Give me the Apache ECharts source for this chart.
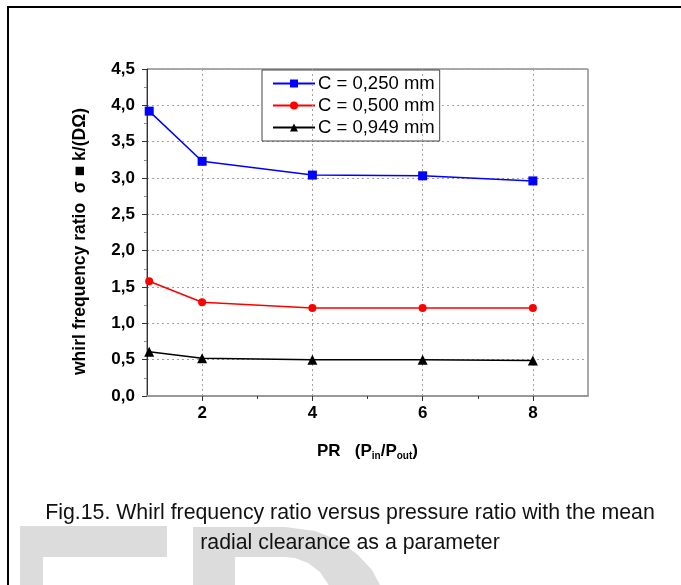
<!DOCTYPE html>
<html>
<head>
<meta charset="utf-8">
<script src="https://cdn.jsdelivr.net/npm/echarts@6/dist/echarts.min.js"></script>
<style>
  html, body { margin: 0; padding: 0; background: #fff; }
  #main { width: 681px; height: 585px; }
</style>
</head>
<body>
<div id="main"></div>
<script>
// pressure ratio values (x)
var prValues = [1.04, 2, 4, 6, 8];
var c250 = [3.92, 3.23, 3.04, 3.03, 2.96];
var c500 = [1.58, 1.29, 1.21, 1.21, 1.21];
var c949 = [0.61, 0.52, 0.50, 0.50, 0.49];
var seriesNames = ['C = 0,250 mm', 'C = 0,500 mm', 'C = 0,949 mm'];
var xMajor = [2, 4, 6, 8];
var xMinor = [3, 5, 7];

function pairs(ys) {
	var out = [];
	for (var i = 0; i < prValues.length; i++) {
		out.push([prValues[i], ys[i]]);
	}
	return out;
}

var font = 'Arial, "Liberation Sans", sans-serif';
var gridLine = { color: '#a0a0a0', type: [2, 3], width: 1 };

var chart = echarts.init(document.getElementById('main'));

var option = {
	animation: false,
	backgroundColor: '#fff',
	grid: {
		left: 147, top: 69, right: 93, bottom: 189,
		show: true,
		borderColor: '#555',
		borderWidth: 1
	},
	legend: {
		orient: 'vertical',
		left: 262,
		top: 70,
		padding: [4, 5, 4, 10],
		itemWidth: 42,
		itemHeight: 10,
		itemGap: 3,
		borderColor: '#444',
		borderWidth: 1,
		backgroundColor: '#fff',
		data: seriesNames,
		textStyle: { fontFamily: font, fontSize: 18.5, lineHeight: 19, color: '#000', padding: [0, 0, 0, -2] }
	},
	xAxis: [{
		type: 'value',
		min: 1,
		max: 9,
		interval: 1,
		name: 'PR   (P{sub|in}/P{sub|out})',
		nameLocation: 'middle',
		nameGap: 46,
		nameTextStyle: {
			fontFamily: font, fontSize: 17, fontWeight: 'bold', color: '#000',
			rich: {
				sub: { fontFamily: font, fontSize: 10, fontWeight: 'bold', verticalAlign: 'bottom', padding: [9, 0, 0, 0] }
			}
		},
		axisLine: { show: true, onZero: false, lineStyle: { color: '#999', width: 2 } },
		axisTick: { show: true, customValues: xMajor, length: 5, lineStyle: { color: '#333' } },
		axisLabel: {
			customValues: xMajor,
			fontFamily: font, fontSize: 17, fontWeight: 'bold', color: '#000', margin: 9
		},
		splitLine: { show: false }
	}, {
		type: 'value',
		min: 1,
		max: 9,
		interval: 1,
		position: 'bottom',
		axisLine: { show: false },
		axisTick: { show: true, customValues: xMinor, length: 3, lineStyle: { color: '#333' } },
		axisLabel: { show: false },
		splitLine: { show: false }
	}],
	yAxis: {
		type: 'value',
		min: 0,
		max: 4.5,
		interval: 0.5,
		name: 'whirl frequency ratio  σ ■ k/(DΩ)',
		nameLocation: 'middle',
		nameRotate: 90,
		nameGap: 58,
		nameTextStyle: { fontFamily: font, fontSize: 17.5, fontWeight: 'bold', color: '#000', padding: [0, 18, 0, 0] },
		axisLine: { show: true, lineStyle: { color: '#333', width: 1 } },
		axisTick: { show: true, length: 5, lineStyle: { color: '#333' } },
		minorTick: { show: true, splitNumber: 2, length: 3, lineStyle: { color: '#888' } },
		axisLabel: {
			fontFamily: font, fontSize: 17, fontWeight: 'bold', color: '#000', margin: 12,
			formatter: function (v) { return v.toFixed(1).replace('.', ','); }
		},
		splitLine: { show: true, lineStyle: gridLine }
	},
	series: [{
		name: 'xgrid',
		type: 'line',
		data: [],
		z: 1,
		markLine: {
			silent: true,
			symbol: 'none',
			label: { show: false },
			lineStyle: gridLine,
			data: xMajor.map(function (v) { return { xAxis: v }; })
		}
	}, {
		name: seriesNames[0],
		type: 'line',
		data: pairs(c250),
		color: '#0000ff',
		symbol: 'rect',
		symbolSize: 9,
		lineStyle: { width: 1.5 },
		z: 5
	}, {
		name: seriesNames[1],
		type: 'line',
		data: pairs(c500),
		color: '#ff0000',
		symbol: 'circle',
		symbolSize: 8,
		lineStyle: { width: 1.5 },
		z: 5
	}, {
		name: seriesNames[2],
		type: 'line',
		data: pairs(c949),
		color: '#000000',
		symbol: 'triangle',
		symbolSize: 10,
		lineStyle: { width: 1.5 },
		z: 5
	}],
	graphic: [
		// light grey watermark letters
		{ type: 'rect', z: -10, silent: true, shape: { x: 20, y: 526, width: 147, height: 31 }, style: { fill: '#dcdcdc' } },
		{ type: 'rect', z: -10, silent: true, shape: { x: 20, y: 557, width: 23, height: 30 }, style: { fill: '#dcdcdc' } },
		{ type: 'polygon', z: -10, silent: true,
			shape: { points: [[193, 527], [285, 527], [315, 531], [340, 541], [358, 555], [372, 570], [381, 587],
				[330, 587], [320, 572], [308, 563], [295, 558], [285, 557], [235, 557], [235, 587], [193, 587]] },
			style: { fill: '#dcdcdc' } },
		// caption
		{ type: 'text', z: 10, x: 350, y: 513,
			style: { text: 'Fig.15. Whirl frequency ratio versus pressure ratio with the mean', font: '21.3px ' + font, fill: '#111', align: 'center', verticalAlign: 'middle' } },
		{ type: 'text', z: 10, x: 350, y: 543,
			style: { text: 'radial clearance as a parameter', font: '21.3px ' + font, fill: '#111', align: 'center', verticalAlign: 'middle' } },
		// figure frame
		{ type: 'rect', z: 20, silent: true, shape: { x: 8, y: 7, width: 700, height: 620 }, style: { fill: 'none', stroke: '#000', lineWidth: 2 } }
	]
};

chart.setOption(option);
</script>
</body>
</html>
